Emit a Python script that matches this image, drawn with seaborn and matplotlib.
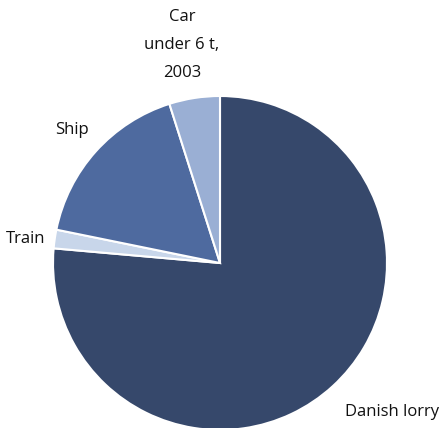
import matplotlib
matplotlib.use("Agg")
import matplotlib.pyplot as plt
import seaborn as sns

# data (share of tonnage, %)
modes = ["Danish lorry", "Train", "Ship", "Car\nunder 6 t,\n2003"]
shares = [76.4, 1.8, 16.9, 4.9]
colours = ["#36486B", "#C8D6EA", "#4E6A9F", "#9AAFD4"]

sns.set_theme(style="white")
plt.rcParams["font.family"] = ["Open Sans", "DejaVu Sans"]

fig = plt.figure(figsize=(4.41, 4.28), dpi=100)
ax = fig.add_axes([0, 0, 1, 1])

wedges, _ = ax.pie(
    shares,
    colors=sns.color_palette(colours),
    startangle=90,
    counterclock=False,
    radius=1.0,
    wedgeprops=dict(edgecolor="white", linewidth=1.5),
)

# label positions (pie units, centre = 0,0)
label_pos = [(1.03, -0.892), (-1.162, 0.144), (-0.886, 0.796), (-0.228, 1.305)]
for name, (x, y) in zip(modes, label_pos):
    ax.text(x, y, name, ha="center", va="center", fontsize=12,
            color="#111111", linespacing=2.0)

ax.set_xlim(-220 / 167, 221 / 167)
ax.set_ylim(-165 / 167, 263 / 167)
ax.set_aspect("auto")
ax.axis("off")

fig.savefig("out.png", dpi=100)
